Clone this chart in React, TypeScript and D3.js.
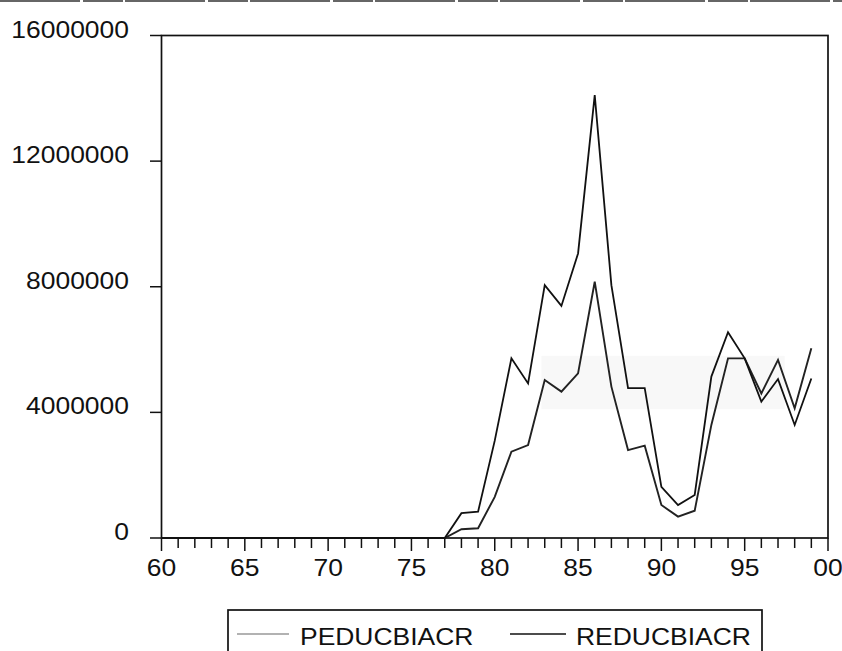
import React from "react";
import * as d3 from "d3";

const years: number[] = d3.range(1960, 2000);
// PEDUCBIACR (nominal), 1960..1999
const peduc: number[] = [
  0, 0, 0, 0, 0, 0, 0, 0, 0, 0,
  0, 0, 0, 0, 0, 0, 0, 0, 280000, 310000,
  1310000, 2750000, 2960000, 5030000, 4660000, 5240000, 8160000, 4820000, 2800000, 2940000,
  1050000, 680000, 870000, 3600000, 5720000, 5720000, 4600000, 5670000, 4130000, 6040000,
];
// REDUCBIACR (real), 1960..1999
const reduc: number[] = [
  0, 0, 0, 0, 0, 0, 0, 0, 0, 0,
  0, 0, 0, 0, 0, 0, 0, 0, 790000, 840000,
  3100000, 5720000, 4920000, 8050000, 7390000, 9060000, 14100000, 8050000, 4770000, 4770000,
  1630000, 1050000, 1370000, 5140000, 6550000, 5720000, 4340000, 5060000, 3600000, 5080000,
];
const yTicks: number[] = [0, 4000000, 8000000, 12000000, 16000000];
const xMajor: number[] = [1960, 1965, 1970, 1975, 1980, 1985, 1990, 1995, 2000];
const xLabels: string[] = ["60", "65", "70", "75", "80", "85", "90", "95", "00"];
const seriesNames: string[] = ["PEDUCBIACR", "REDUCBIACR"];

const W = 842, H = 651;
const L = 161.5, R = 828, T = 35.5, B = 538;
const FONT = "'Liberation Sans', Arial, sans-serif";
const FS = 24.5;
const SX = 1.08;

export default function App() {
  const x = d3.scaleLinear().domain([1960, 2000]).range([L, R]);
  const y = d3.scaleLinear().domain([0, 16000000]).range([B, T]);
  const line = d3
    .line<number>()
    .x((_, i) => x(years[i]))
    .y((d) => y(d));
  const minor = d3.range(1960, 2001);

  const txt = (
    s: string,
    px: number,
    py: number,
    anchor: "start" | "middle" | "end",
    key?: string
  ) => (
    <text
      key={key}
      transform={`translate(${px},${py}) scale(${SX},1)`}
      textAnchor={anchor}
      fontFamily={FONT}
      fontSize={FS}
      fill="#111"
    >
      {s}
    </text>
  );

  return (
    <svg
      width={W}
      height={H}
      style={{ position: "absolute", left: 0, top: 0, background: "#fff" }}
    >
      <rect x={0} y={0} width={W} height={H} fill="#fff" />
      {/* scan edge line at top */}
      <line x1={0} x2={W} y1={1} y2={1} stroke="#666" strokeWidth={2} strokeDasharray="80 3 40 2" />
      {/* faint scan band */}
      <rect
        x={x(1982.8)}
        y={y(5800000)}
        width={x(1997.4) - x(1982.8)}
        height={y(4100000) - y(5800000)}
        fill="#f8f8f8"
      />
      {/* frame */}
      <rect x={L} y={T} width={R - L} height={B - T} fill="none" stroke="#111" strokeWidth={1.7} />
      {/* y ticks & labels */}
      {yTicks.map((v) => (
        <g key={v}>
          <line x1={L - 11.5} x2={L} y1={y(v)} y2={y(v)} stroke="#111" strokeWidth={1.5} />
          {txt(String(v), 129, y(v) + 2, "end")}
        </g>
      ))}
      {/* x ticks */}
      {minor.map((yr) => (
        <line
          key={yr}
          x1={x(yr)}
          x2={x(yr)}
          y1={B}
          y2={B + (yr % 5 === 0 ? 13 : 10)}
          stroke="#111"
          strokeWidth={1.5}
        />
      ))}
      {xMajor.map((yr, i) => txt(xLabels[i], x(yr), 576, "middle", "xl" + yr))}
      {/* series */}
      <path d={line(peduc) || ""} fill="none" stroke="#222" strokeWidth={1.9} strokeLinejoin="miter" />
      <path d={line(reduc) || ""} fill="none" stroke="#111" strokeWidth={1.8} strokeLinejoin="miter" />
      {/* legend */}
      <rect x={228} y={610} width={534} height={60} fill="none" stroke="#111" strokeWidth={1.7} />
      <line x1={237} x2={289} y1={634} y2={634} stroke="#999" strokeWidth={1.6} />
      {txt(seriesNames[0], 300, 645, "start")}
      <line x1={510} x2={566} y1={634} y2={634} stroke="#111" strokeWidth={1.4} />
      {txt(seriesNames[1], 576, 645, "start")}
    </svg>
  );
}
